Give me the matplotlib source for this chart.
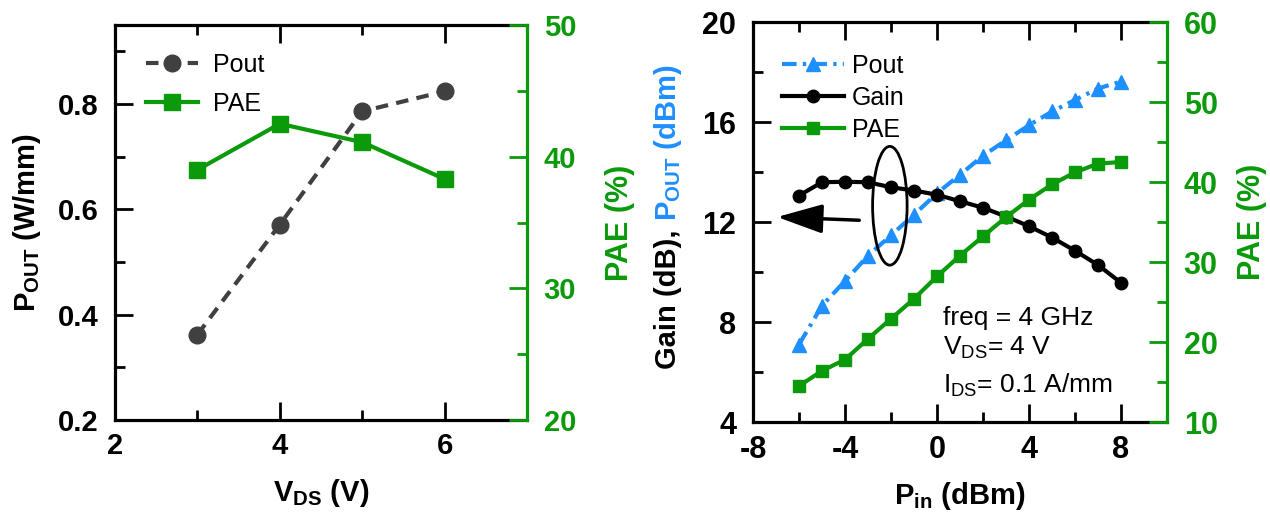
import matplotlib
matplotlib.use('Agg')
import matplotlib.pyplot as plt
from matplotlib.patches import Ellipse

plt.rcParams['font.family'] = 'Liberation Sans'
plt.rcParams['font.weight'] = 'bold'
plt.rcParams['axes.labelweight'] = 'bold'
plt.rcParams['mathtext.fontset'] = 'custom'
plt.rcParams['mathtext.rm'] = 'Liberation Sans:normal'
plt.rcParams['mathtext.bf'] = 'Liberation Sans:bold'
plt.rcParams['mathtext.it'] = 'Liberation Sans:italic'
plt.rcParams['axes.unicode_minus'] = False

# potencia e PAE em funcao de VDS
vds = [3, 4, 5, 6]
pout_wmm = [0.362, 0.571, 0.786, 0.824]
pae_vds = [39.0, 42.5, 41.1, 38.3]

# varredura de potencia de entrada (freq = 4 GHz)
pin = [-6, -5, -4, -3, -2, -1, 0, 1, 2, 3, 4, 5, 6, 7, 8]
pout_dbm = [7.1, 8.65, 9.64, 10.65, 11.47, 12.29, 13.15, 13.89, 14.65, 15.27,
            15.87, 16.42, 16.88, 17.34, 17.62]
gain = [13.06, 13.59, 13.61, 13.59, 13.39, 13.26, 13.09, 12.83, 12.57, 12.22,
        11.83, 11.38, 10.85, 10.28, 9.57]
pae_pin = [14.5, 16.4, 17.8, 20.4, 22.9, 25.4, 28.2, 30.8, 33.2, 35.6,
           37.8, 39.7, 41.2, 42.3, 42.5]

GREEN = '#0a9a0a'
BLUE = '#1e8fff'
GREY = '#404040'

W, H = 1270, 514
fig = plt.figure(figsize=(W / 100, H / 100), dpi=100)


def estilo(ax, axr, tsize):
    for s in ['left', 'bottom', 'top']:
        ax.spines[s].set_linewidth(2.3)
    ax.spines['right'].set_visible(False)
    for s in ['left', 'bottom', 'top']:
        axr.spines[s].set_visible(False)
    axr.spines['right'].set_color(GREEN)
    axr.spines['right'].set_linewidth(2.3)
    ax.tick_params(axis='both', which='both', direction='in', width=2,
                   labelsize=tsize, top=True, right=False)
    ax.tick_params(which='major', length=13)
    ax.tick_params(which='minor', length=7)
    ax.tick_params(axis='x', pad=9)
    ax.tick_params(axis='y', pad=12)
    axr.tick_params(axis='y', which='both', direction='in', width=2,
                    colors=GREEN, labelsize=tsize, pad=12)
    axr.tick_params(which='major', length=13)
    axr.tick_params(which='minor', length=7)


# ---- painel esquerdo ----
ax1 = fig.add_axes([115 / W, 1 - 420 / H, 412 / W, 395 / H])
ax1r = ax1.twinx()
estilo(ax1, ax1r, 21)

l1, = ax1.plot(vds, pout_wmm, color=GREY, lw=3, ls=(0, (3, 2)),
               marker='o', ms=12, label='Pout')
l2, = ax1r.plot(vds, pae_vds, color=GREEN, lw=3, marker='s', ms=11, label='PAE')

ax1.set_xlim(2, 7)
ax1.set_ylim(0.2, 0.95)
ax1r.set_ylim(20, 50)
ax1.set_xticks([2, 4, 6])
ax1.set_xticks([3, 5], minor=True)
ax1.set_yticks([0.2, 0.4, 0.6, 0.8])
ax1.set_yticks([0.3, 0.5, 0.7, 0.9], minor=True)
ax1r.set_yticks([20, 30, 40, 50])
ax1r.set_yticks([25, 35, 45], minor=True)

ax1.set_xlabel(r'$\mathbf{V_{DS}}$ (V)', fontsize=21, fontweight='bold')
ax1.xaxis.set_label_coords(0.5, -0.145)
ax1.set_ylabel(r'$\mathbf{P_{OUT}}$ (W/mm)', fontsize=21, fontweight='bold')
ax1.yaxis.set_label_coords(-0.175, 0.5)
ax1r.set_ylabel('PAE (%)', fontsize=22, color=GREEN, fontweight='bold')
ax1r.yaxis.set_label_coords(1.19, 0.5)

ax1.legend([l1, l2], ['Pout', 'PAE'], loc='upper left',
           bbox_to_anchor=(0.075, 0.93), frameon=False, borderpad=0,
           borderaxespad=0, handlelength=2.1, handletextpad=0.6,
           labelspacing=0.6, prop={'size': 18, 'weight': 'normal'})

# ---- painel direito ----
ax2 = fig.add_axes([753 / W, 1 - 422 / H, 414 / W, 400 / H])
ax2r = ax2.twinx()
estilo(ax2, ax2r, 22)

p1, = ax2.plot(pin, pout_dbm, color=BLUE, lw=3, ls=(0, (3.5, 1.5, 0.8, 1.5)),
               marker='^', ms=10, label='Pout')
p2, = ax2.plot(pin, gain, color='black', lw=3, marker='o', ms=9, label='Gain')
p3, = ax2r.plot(pin, pae_pin, color=GREEN, lw=3, marker='s', ms=8, label='PAE')

ax2.set_xlim(-8, 10)
ax2.set_ylim(4, 20)
ax2r.set_ylim(10, 60)
ax2.set_xticks([-8, -4, 0, 4, 8])
ax2.set_xticks([-6, -2, 2, 6], minor=True)
ax2.set_yticks([4, 8, 12, 16, 20])
ax2.set_yticks([6, 10, 14, 18], minor=True)
ax2r.set_yticks([10, 20, 30, 40, 50, 60])
ax2r.set_yticks([15, 25, 35, 45, 55], minor=True)

ax2.set_xlabel(r'$\mathbf{P_{in}}$ (dBm)', fontsize=21, fontweight='bold')
ax2.xaxis.set_label_coords(0.5, -0.145)
ax2r.set_ylabel('PAE (%)', fontsize=22, color=GREEN, fontweight='bold')
ax2r.yaxis.set_label_coords(1.17, 0.5)

ax2.legend([p1, p2, p3], ['Pout', 'Gain', 'PAE'], loc='upper left',
           bbox_to_anchor=(0.07, 0.92), frameon=False, borderpad=0,
           borderaxespad=0, handlelength=2.5, handletextpad=0.3,
           labelspacing=0.32, prop={'size': 18, 'weight': 'normal'})

# elipse e seta indicando o eixo do ganho
ax2.add_patch(Ellipse((-2.05, 12.65), 1.5, 4.75, fill=False, lw=2,
                      edgecolor='black', zorder=5))
ax2.annotate('', xy=(-6.95, 12.2), xytext=(-3.38, 12.07),
             arrowprops=dict(arrowstyle='-|>,head_length=1.4,head_width=0.45',
                             lw=2.5, color='black', mutation_scale=20,
                             shrinkA=0, shrinkB=0))

ax2.text(0.26, 7.88, 'freq = 4 GHz', fontsize=19, fontweight='normal')
ax2.text(0.26, 6.68, r'V$_{\mathrm{DS}}$= 4 V', fontsize=19, fontweight='normal')
ax2.text(0.26, 5.16, r'I$_{\mathrm{DS}}$= 0.1 A/mm', fontsize=19, fontweight='normal')

# rotulo do eixo esquerdo em duas cores
fig.canvas.draw()
rend = fig.canvas.get_renderer()
xb = 676 / W
t1 = fig.text(xb, 0, 'Gain (dB), ', rotation=90, rotation_mode='anchor',
              ha='left', va='baseline', fontsize=21, color='black')
t2 = fig.text(xb, 0, r'$\mathbf{P_{OUT}}$ (dBm)', rotation=90,
              rotation_mode='anchor', ha='left', va='baseline', fontsize=21,
              color=BLUE)
h1 = t1.get_window_extent(rend).height
h2 = t2.get_window_extent(rend).height
y0 = (H - 217) - (h1 + h2) / 2
t1.set_y(y0 / H)
t2.set_y((y0 + h1) / H)

fig.savefig('out.png', dpi=100)
